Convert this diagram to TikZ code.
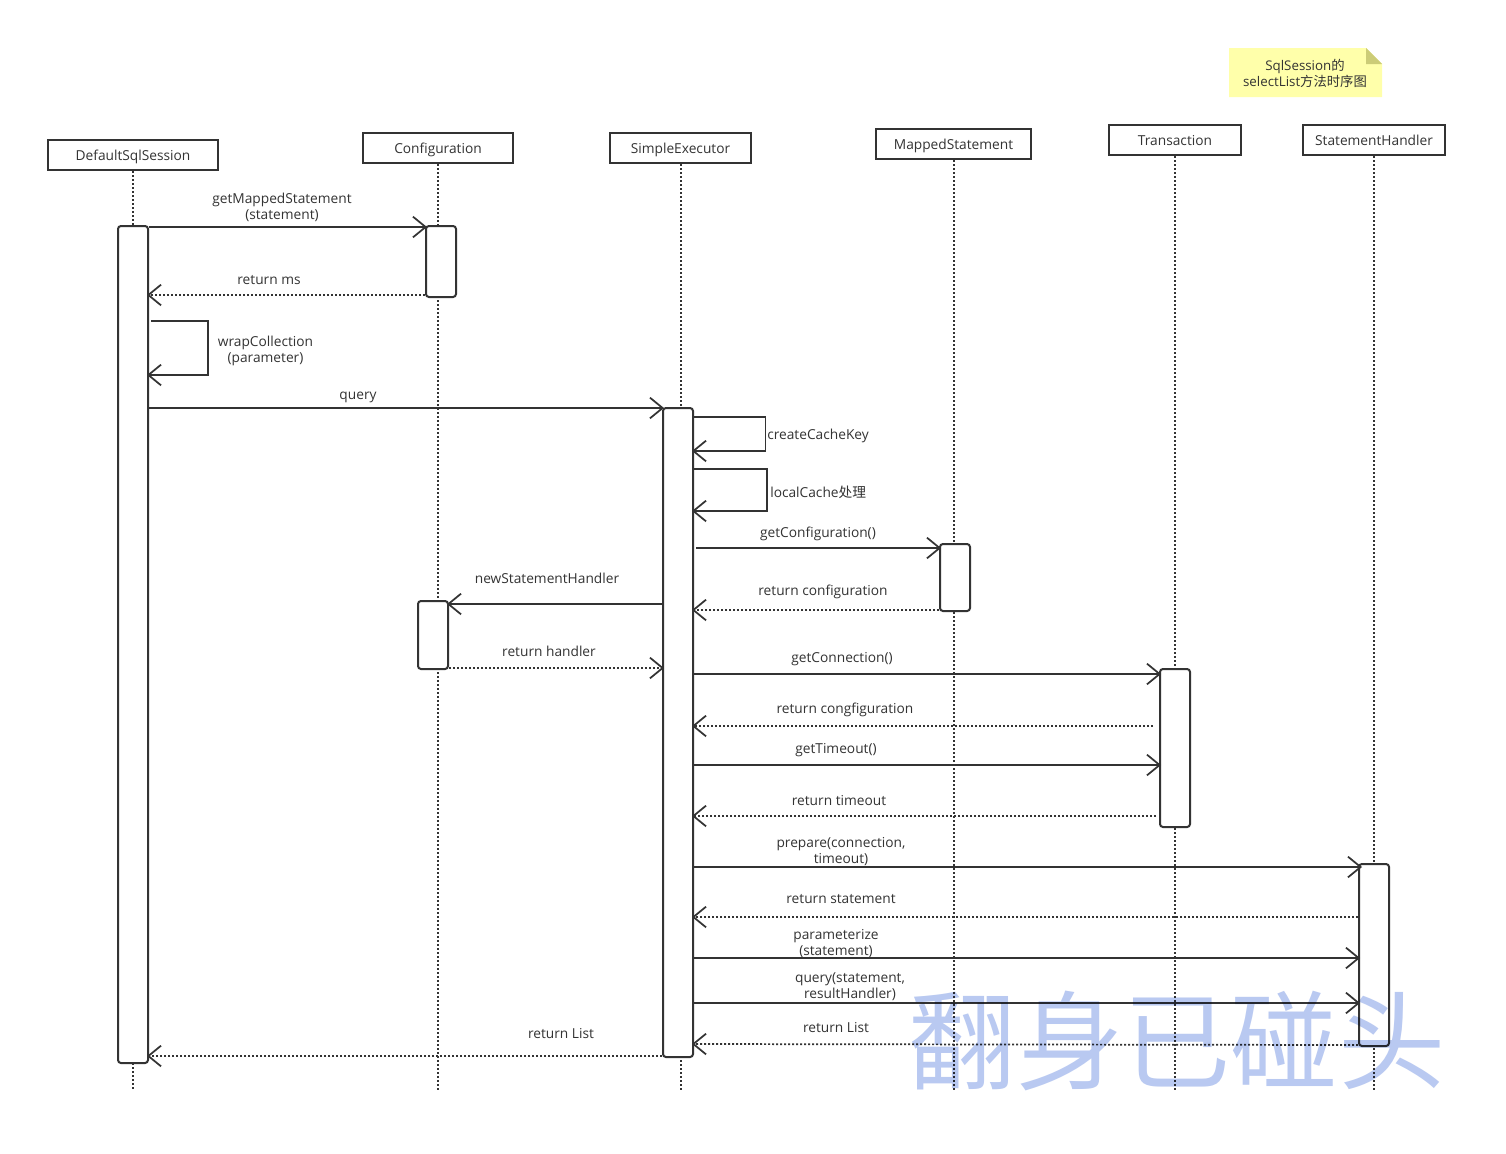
\documentclass[tikz,border=0pt]{standalone}
\usepackage{fontspec}
\setmainfont{Open Sans}
\newfontfamily\cjk{Noto Sans CJK SC}
\usetikzlibrary{arrows.meta,calc}
\definecolor{ink}{HTML}{333333}
\definecolor{notefill}{HTML}{FFFFAA}
\definecolor{notefold}{HTML}{CCCC77}
\definecolor{mark}{HTML}{B9C9F1}
\tikzset{
  headbox/.style={draw=ink,line width=1.5pt,fill=white,inner sep=0pt,text=ink,text height=9.5pt,text depth=2pt,font=\fontsize{10.3}{12}\selectfont},
  barbox/.style={draw=ink,line width=1.5pt,fill=white,inner sep=0pt,rounded corners=2.2pt},
  life/.style={draw=ink,line width=1.4pt,dash pattern=on 1.5pt off 1.5pt},
  msg/.style={draw=ink,line width=1.3pt,shorten >=-1.5pt,-{Straight Barb[length=9.5pt,width=15.5pt,line width=1.3pt]}},
  ret/.style={msg,dash pattern=on 1.5pt off 1.5pt},
  lab/.style={inner sep=0pt,yshift=-1.1pt,text=ink,align=center,font=\fontsize{10.3}{12}\selectfont},
  labone/.style={inner sep=0pt,text=ink,text height=9.5pt,text depth=2pt,font=\fontsize{10.3}{12}\selectfont},
}
% style, name, x1, y1, x2, y2, text
\newcommand\boxnode[7]{%
  \pgfmathsetlengthmacro\bw{(#5-#3)*0.75}%
  \pgfmathsetlengthmacro\bh{(#6-#4)*0.75}%
  \pgfmathsetmacro\bx{(#3+#5)/2}%
  \pgfmathsetmacro\by{(#4+#6)/2}%
  \node[#1,minimum width=\bw,minimum height=\bh] (#2) at (\bx,\by) {#7};}
\begin{document}
\begin{tikzpicture}[x=0.75pt,y=-0.75pt]
\useasboundingbox (0,0) rectangle (1506,1153);
\fill[white] (0,0) rectangle (1506,1153);
% note
\fill[notefill] (1229,48) -- (1366,48) -- (1382,64) -- (1382,97) -- (1229,97) -- cycle;
\fill[notefold] (1366,48) -- (1382,64) -- (1366,64) -- cycle;
\node[lab,font=\fontsize{10}{12}\selectfont] (title) at (1305,72) {SqlSession{\cjk 的}\\selectList{\cjk 方法时序图}};
% heads
\boxnode{headbox}{hsess}{48}{140}{218}{170}{DefaultSqlSession}
\boxnode{headbox}{hcfg}{363}{133}{513}{163}{Configuration}
\boxnode{headbox}{hexec}{610}{133}{751}{163}{SimpleExecutor}
\boxnode{headbox}{hms}{876}{129}{1031}{159}{MappedStatement}
\boxnode{headbox}{htx}{1109}{125}{1241}{155}{Transaction}
\boxnode{headbox}{hsh}{1303}{125}{1445}{155}{StatementHandler}
% lifeline ends
\coordinate (esess) at (133,1090);
\coordinate (ecfg) at (438,1090);
\coordinate (eexec) at (681,1090);
\coordinate (ems) at (954,1090);
\coordinate (etx) at (1175,1090);
\coordinate (esh) at (1374,1090);
\draw[life] (hsess.south -| esess) -- (esess);
\draw[life] (hcfg.south -| ecfg) -- (ecfg);
\draw[life] (hexec.south -| eexec) -- (eexec);
\draw[life] (hms.south -| ems) -- (ems);
\draw[life] (htx.south -| etx) -- (etx);
\draw[life] (hsh.south -| esh) -- (esh);
% activations
\boxnode{barbox}{sess}{118}{226}{148}{1063}{}
\boxnode{barbox}{cfga}{426}{226}{456}{297}{}
\boxnode{barbox}{exec}{663}{408}{693}{1057}{}
\boxnode{barbox}{ms}{940}{544}{970}{611}{}
\boxnode{barbox}{cfgb}{418}{601}{448}{669}{}
\boxnode{barbox}{tx}{1160}{669}{1190}{827}{}
\boxnode{barbox}{sh}{1359}{864}{1389}{1046}{}
% messages
\draw[msg] (sess.east |- 0,227) -- (cfga.west |- 0,227);
\node[lab] (l1) at (282,206) {getMappedStatement\\(statement)};
\draw[ret] (cfga.west |- 0,295) -- (sess.east |- 0,295);
\node[labone] (l2) at (269,279) {return ms};
\draw[msg] ($(sess.east |- 0,321)+(2,0)$) -- ++(57,0) -- ++(0,54) -- (sess.east |- 0,375);
\node[lab] (l3) at (265.5,349) {wrapCollection\\(parameter)};
\draw[msg] (sess.east |- 0,408) -- (exec.west |- 0,408);
\node[labone] (l4) at (358,394) {query};
\draw[msg] (exec.east |- 0,417) -- ++(71.5,0) -- ++(0,34) -- (exec.east |- 0,451);
\node[labone,anchor=west] (l5) at (767,434) {createCacheKey};
\draw[msg] (exec.east |- 0,469) -- ++(73,0) -- ++(0,42) -- (exec.east |- 0,511);
\node[labone,anchor=west] (l6) at (770,492) {localCache{\cjk 处理}};
\draw[msg] ($(exec.east |- 0,548)+(2,0)$) -- (ms.west |- 0,548);
\node[labone] (l7) at (818,532) {getConfiguration()};
\draw[ret] (ms.west |- 0,610) -- (exec.east |- 0,610);
\node[labone] (l8) at (823,590) {return configuration};
\draw[msg] (exec.west |- 0,604) -- (cfgb.east |- 0,604);
\node[labone] (l9) at (547,578) {newStatementHandler};
\draw[ret] (cfgb.east |- 0,668) -- (exec.west |- 0,668);
\node[labone] (l10) at (549,651) {return handler};
\draw[msg] (exec.east |- 0,674) -- (tx.west |- 0,674);
\node[labone] (l11) at (842,657) {getConnection()};
\draw[ret] ($(tx.west |- 0,726)+(-6,0)$) -- (exec.east |- 0,726);
\node[labone] (l12) at (845,708) {return congfiguration};
\draw[msg] (exec.east |- 0,765) -- (tx.west |- 0,765);
\node[labone] (l13) at (836,748) {getTimeout()};
\draw[ret] ($(tx.west |- 0,816)+(-3,0)$) -- (exec.east |- 0,816);
\node[labone] (l14) at (839,800) {return timeout};
\draw[msg] (exec.east |- 0,867) -- ($(sh.west |- 0,867)+(2,0)$);
\node[lab] (l15) at (841,850) {prepare(connection,\\timeout)};
\draw[ret] (sh.west |- 0,917) -- (exec.east |- 0,917);
\node[labone] (l16) at (841,898) {return statement};
\draw[msg] (exec.east |- 0,958) -- (sh.west |- 0,958);
\node[lab] (l17) at (836,942) {parameterize\\(statement)};
\draw[msg] (exec.east |- 0,1003) -- (sh.west |- 0,1003);
\node[lab] (l18) at (850,985) {query(statement,\\resultHandler)};
\draw[ret] (sh.west |- 0,1045) -- (exec.east |- 0,1044);
\node[labone] (l19) at (836,1027) {return List};
\draw[ret] (exec.west |- 0,1056) -- (sess.east |- 0,1056);
\node[labone] (l20) at (561,1033) {return List};
% watermark
\begin{scope}[blend mode=multiply]
\node[inner sep=0pt,text=mark,font=\cjk\fontsize{80.5}{80.5}\selectfont] (mk) at (1177,1041) {翻身已碰头};
\end{scope}
\end{tikzpicture}
\end{document}
